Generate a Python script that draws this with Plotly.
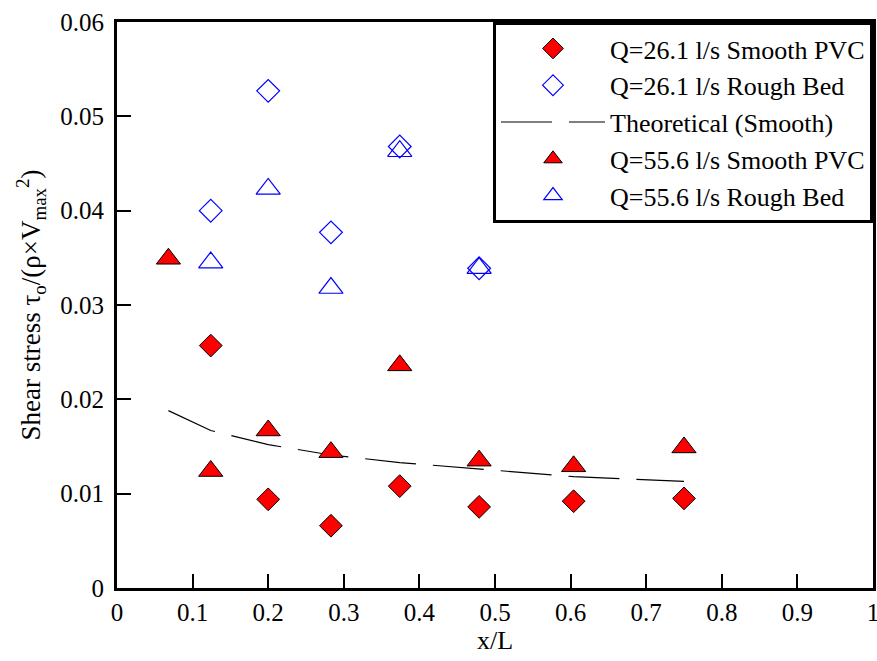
import plotly.graph_objects as go

# Measurement stations along the flume (x/L)
x_smooth = [0.124, 0.2, 0.283, 0.374, 0.479, 0.604, 0.75]
x_smooth_hi = [0.068, 0.124, 0.2, 0.283, 0.374, 0.479, 0.604, 0.75]
x_rough = [0.124, 0.2, 0.283, 0.374, 0.479]
x_theory = [0.068, 0.124, 0.2, 0.283, 0.374, 0.479, 0.604, 0.75]

# Non-dimensional bed shear stress tau_o / (rho * Vmax^2)
tau_q26_smooth = [0.0257, 0.0094, 0.0066, 0.0108, 0.0086, 0.0092, 0.0095]
tau_q26_rough = [0.0400, 0.0527, 0.0377, 0.0468, 0.0339]
tau_theory = [0.0188, 0.0167, 0.0152, 0.0141, 0.0133, 0.0126, 0.0118, 0.0113]
tau_q55_smooth = [0.0349, 0.0124, 0.0167, 0.0144, 0.0236, 0.0135, 0.0129, 0.0149]
tau_q55_rough = [0.0345, 0.0423, 0.0318, 0.0463, 0.0339]

x_ticks = [0, 0.1, 0.2, 0.3, 0.4, 0.5, 0.6, 0.7, 0.8, 0.9, 1]
y_ticks = [0, 0.01, 0.02, 0.03, 0.04, 0.05, 0.06]

FONT = "Liberation Serif, Times New Roman, Times, DejaVu Serif, serif"
RED = "#ff0000"
BLUE = "#0000ff"

fig = go.Figure()

fig.add_trace(go.Scatter(
    x=x_smooth, y=tau_q26_smooth, mode="markers",
    name="Q=26.1 l/s Smooth PVC",
    marker=dict(symbol="diamond", size=17.5, color=RED,
                line=dict(color="black", width=1)),
))
fig.add_trace(go.Scatter(
    x=x_rough, y=tau_q26_rough, mode="markers",
    name="Q=26.1 l/s Rough Bed",
    marker=dict(symbol="diamond-open", size=17.5, color=BLUE,
                line=dict(color=BLUE, width=1.2)),
))
fig.add_trace(go.Scatter(
    x=x_theory, y=tau_theory, mode="lines",
    name="Theoretical (Smooth)",
    line=dict(color="black", width=1.2, dash="51px,17px"),
))
fig.add_trace(go.Scatter(
    x=x_smooth_hi, y=tau_q55_smooth, mode="markers",
    name="Q=55.6 l/s Smooth PVC",
    marker=dict(symbol="triangle-up", size=21, color=RED,
                line=dict(color="black", width=1)),
))
fig.add_trace(go.Scatter(
    x=x_rough, y=tau_q55_rough, mode="markers",
    name="Q=55.6 l/s Rough Bed",
    marker=dict(symbol="triangle-up-open", size=21, color=BLUE,
                line=dict(color=BLUE, width=1.2)),
))

axis_common = dict(
    showgrid=False, zeroline=False,
    showline=True, linecolor="black", linewidth=3, mirror=True,
    ticks="inside", ticklen=14, tickwidth=2, tickcolor="black",
    tickfont=dict(family=FONT, size=25, color="black"),
    automargin=False, ticklabeloverflow="allow",
)

fig.update_xaxes(
    range=[0, 1], tickvals=x_ticks,
    ticktext=[f"{v:g}" for v in x_ticks],
    title=dict(text="x/L", font=dict(family=FONT, size=26, color="black"),
               standoff=2),
    ticklabelstandoff=0,
    **axis_common,
)
fig.update_yaxes(
    range=[0, 0.06], tickvals=y_ticks,
    ticktext=[f"{v:g}" for v in y_ticks],
    title=dict(
        text="Shear stress τ<sub>o</sub>/(ρ×V<sub>max</sub><sup>2</sup>)",
        font=dict(family=FONT, size=27, color="black"), standoff=12),
    ticklabelstandoff=5,
    **axis_common,
)

fig.update_layout(
    width=877, height=661,
    margin=dict(l=117, r=4, t=22, b=73),
    plot_bgcolor="white", paper_bgcolor="white",
    font=dict(family=FONT, color="black"),
    showlegend=True,
    legend=dict(
        x=1, xanchor="right", y=1, yanchor="top",
        bgcolor="white", bordercolor="black", borderwidth=3,
        font=dict(family=FONT, size=26, color="black"),
        itemwidth=104, tracegroupgap=0,
    ),
)

fig.write_html("out.html")
